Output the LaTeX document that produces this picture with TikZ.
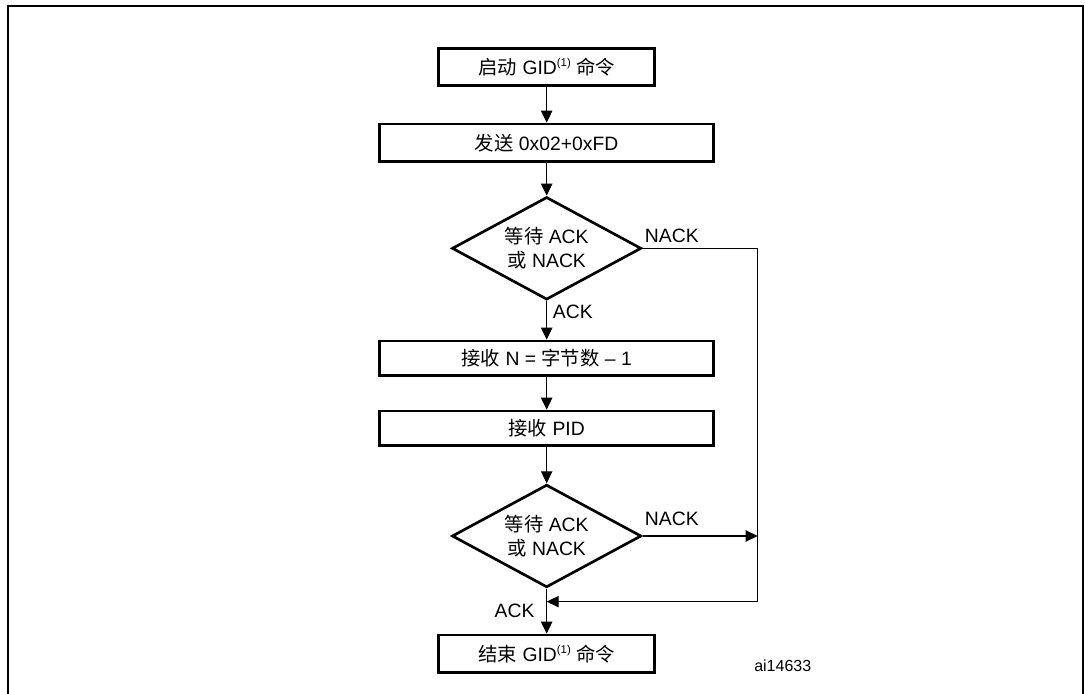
\documentclass[tikz,border=0pt]{standalone}
\usepackage{fontspec}
\setmainfont{Liberation Sans}
\newfontfamily\cjk{Noto Sans CJK SC}
\usepackage{tikz}
\usetikzlibrary{positioning,arrows.meta,shapes.geometric,calc}
\newcommand{\zh}[1]{{\cjk #1}}
\newcommand{\fnone}{\raisebox{0.41em}{\fontsize{8.5}{9}\selectfont(1)}}

\begin{document}
\begin{tikzpicture}[
block/.style={draw,line width=2pt,minimum width=250.5pt,minimum height=28pt,inner sep=2pt,align=center},
endblock/.style={block,minimum width=162pt},
decide/.style={draw,diamond,line width=2pt,minimum width=142pt,minimum height=77pt,inner sep=0pt,aspect=1.85,align=center},
arr/.style={-{Triangle[length=9pt,width=8.5pt]},line width=0.9pt},
lbl/.style={inner sep=0pt},
font=\fontsize{14.5}{18}\selectfont]
\useasboundingbox (0,0) rectangle (813.75pt,519.75pt);
\draw[line width=1.5pt] (6pt,-5pt) rectangle (812.25pt,515.25pt);
\node[endblock] (start) at (410pt,469.5pt) {\zh{启动} GID\fnone\ \zh{命令}};
\node[block,below=26.75pt of start] (send) {\zh{发送} 0x02+0xFD};
\node[decide,below=24.75pt of send] (wait1) {\zh{等待} ACK\\\zh{或} NACK};
\node[block,minimum height=26pt,below=29pt of wait1] (recvn) {\zh{接收} N = \zh{字节数} -- 1};
\node[block,minimum height=26pt,below=24.5pt of recvn] (recvpid) {\zh{接收} PID};
\node[decide,below=27.25pt of recvpid] (wait2) {\zh{等待} ACK\\\zh{或} NACK};
\node[endblock,below=33.75pt of wait2] (stop) {\zh{结束} GID\fnone\ \zh{命令}};
% labels
\node[lbl,anchor=base west] (nack1) at ($(wait1.east)+(1.5pt,4.5pt)$) {NACK};
\node[lbl,anchor=base west] (ack1) at ($(wait1.south)+(4.5pt,-13.5pt)$) {ACK};
\node[lbl,anchor=base west] (nack2) at ($(wait2.east)+(1.5pt,7.5pt)$) {NACK};
\node[lbl,anchor=base east] (ack2) at ($(wait2.south)+(-9pt,-21.75pt)$) {ACK};
\node[lbl,anchor=base west,font=\fontsize{12}{14}\selectfont] (fig) at ($(stop.east)+(73.5pt,-13.5pt)$) {ai14633};
% return path
\coordinate (rt) at ($(wait1.east)+(86.25pt,0)$);
\coordinate (merge) at ($(wait2.south)+(0,-9.75pt)$);
\coordinate (rb) at (rt |- merge);
\coordinate (rm) at (rt |- wait2.east);
\draw[arr] (start) -- (send);
\draw[arr] (send) -- (wait1);
\draw[arr] (wait1) -- (recvn);
\draw[arr] (recvn) -- (recvpid);
\draw[arr] (recvpid) -- (wait2);
\draw[arr] (wait2) -- (stop);
\draw[arr] (wait1.east) -- (rt) -- (rb) -- (merge);
\draw[arr] (wait2.east) -- (rm);
\end{tikzpicture}
\end{document}
